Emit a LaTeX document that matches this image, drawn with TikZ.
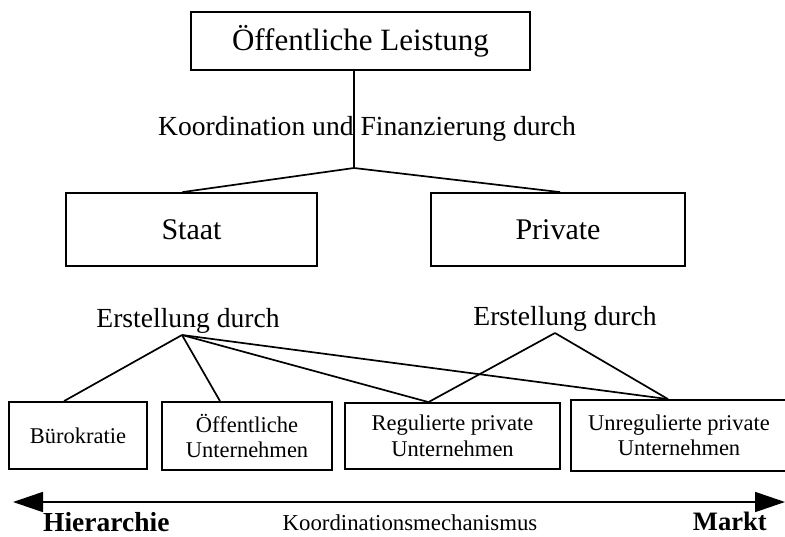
\documentclass[tikz,border=0pt]{standalone}
\usepackage{fontspec}
\setmainfont{Liberation Serif}
\usetikzlibrary{arrows.meta}

\begin{document}
\begin{tikzpicture}[x=1pt,y=-1pt,
    box/.style={draw,line width=1.8pt,inner sep=0pt,align=center},
    bigbox/.style={box,minimum height=73pt,font=\fontsize{30}{34}\selectfont},
    smallbox/.style={box,font=\fontsize{22.5}{25.5}\selectfont},
    link/.style={line width=1.7pt},
    lbl/.style={inner sep=0pt,anchor=base,font=\fontsize{27.6}{30}\selectfont}]
    \useasboundingbox (0,0) rectangle (785,536);
    % top level
    \node[box,minimum width=339pt,minimum height=58pt,font=\fontsize{31}{36}\selectfont] (leistung) at (360.5,41) {Öffentliche Leistung};
    \node[lbl] (koord) at (367,135) {Koordination und Finanzierung durch};
    \coordinate (split) at (354,168);
    % second level
    \node[bigbox,minimum width=251pt] (staat) at (191.5,229.5) {Staat};
    \node[bigbox,minimum width=254pt] (privat) at (558,229.5) {Private};
    \draw[link] (split |- leistung.south) -- (split);
    \draw[link] ([xshift=-9pt]staat.north) -- (split) -- ([xshift=2pt]privat.north);
    % who produces
    \node[lbl] (erstS) at (188,327) {Erstellung durch};
    \node[lbl] (erstP) at (565,325) {Erstellung durch};
    \coordinate (apexS) at (182,335);
    \coordinate (apexP) at (555,333);
    % bottom row
    \node[smallbox,minimum width=138pt,minimum height=67pt] (buero) at (78,435.5) {Bürokratie};
    \node[smallbox,minimum width=170pt,minimum height=68pt] (oeff) at (247,436) {Öffentliche\\Unternehmen};
    \node[smallbox,minimum width=215pt,minimum height=66pt] (reg) at (452.5,436) {Regulierte private\\Unternehmen};
    \node[smallbox,minimum width=216pt,minimum height=71pt] (unreg) at (679,435.5) {Unregulierte private\\Unternehmen};
    % connectors
    \foreach \target/\dx in {buero/-14,oeff/-27,reg/-24,unreg/-11} {
        \draw[link] (apexS) -- ([xshift=\dx pt]\target.north);
    }
    \foreach \target/\dx in {reg/-24,unreg/-11} {
        \draw[link] (apexP) -- ([xshift=\dx pt]\target.north);
    }
    % scale of coordination
    \coordinate (hier) at (13,502);
    \coordinate (markt) at (785,502);
    \draw[link,{Triangle[length=30pt,width=20pt]}-{Triangle[length=30pt,width=20pt]}] (hier) -- (markt);
    \node[lbl,anchor=base west,font=\fontsize{27.5}{30}\selectfont\bfseries] (hierlbl) at (43,531) {Hierarchie};
    \node[lbl,font=\fontsize{22.8}{26}\selectfont] (mech) at (410,530) {Koordinationsmechanismus};
    \node[lbl,anchor=base east,font=\fontsize{26.6}{30}\selectfont\bfseries] (marktlbl) at (767,530) {Markt};
\end{tikzpicture}
\end{document}
